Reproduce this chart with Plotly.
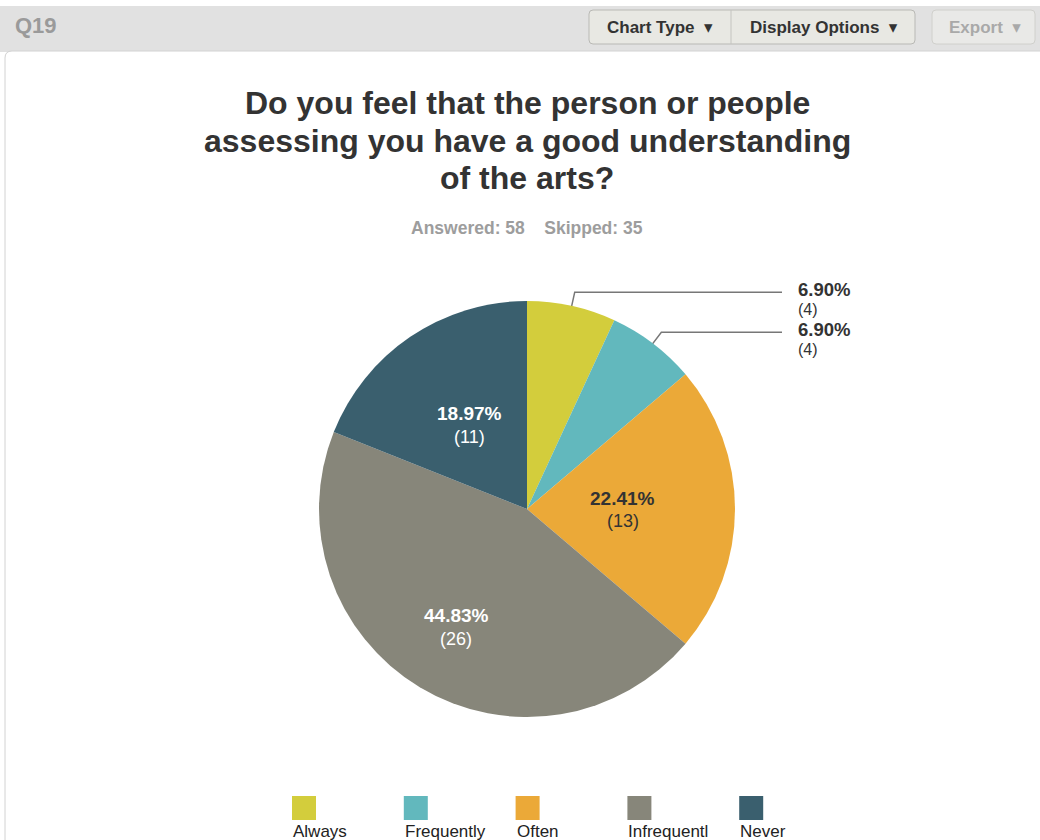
import math
import plotly.graph_objects as go

# ---- survey data -------------------------------------------------------
categories = ["Always", "Frequently", "Often", "Infrequently", "Never"]
counts = [4, 4, 13, 26, 11]
colors = ["#d3cd3c", "#62b8bd", "#eba938", "#87867a", "#3a5f6e"]

question_id = "Q19"
title_lines = ["Do you feel that the person or people",
               "assessing you have a good understanding",
               "of the arts?"]
answered = 58
skipped = 35

# ---- layout constants (pixel space) -----------------------------------
W, H = 1040, 840
CX, CY, R = 527, 509, 208          # pie centre and radius
FONT = "Liberation Sans, Arial, Helvetica, DejaVu Sans, sans-serif"
inside_label_radius = [None, None, 0.46, 0.66, 0.49]   # fraction of R
inside_label_color = [None, None, "#333333", "#ffffff", "#ffffff"]
outside_slices = [0, 1]
legend_left, legend_step, legend_label_len = 292, 111.8, 11

total = sum(counts)
pcts = [c / total * 100 for c in counts]

fig = go.Figure()

# pie placed in a square domain so the radius lands exactly on R
fig.add_trace(go.Pie(
    labels=categories, values=counts, sort=False, direction="clockwise",
    rotation=0, marker=dict(colors=colors, line=dict(width=0)),
    textinfo="none", hoverinfo="label+percent+value", showlegend=False,
    domain=dict(x=[(CX - R) / W, (CX + R) / W], y=[1 - (CY + R) / H, 1 - (CY - R) / H]),
))

# mid-angle of each slice, measured clockwise from 12 o'clock
mid_angles = []
acc = 0
for c in counts:
    mid_angles.append((acc + c / 2) / total * 2 * math.pi)
    acc += c

def polar(a, r):
    return CX + r * math.sin(a), CY - r * math.cos(a)

annotations = []
shapes = []

def text(x, y, s, size, color, anchor="center", bold=False):
    annotations.append(dict(xref="x", yref="y", x=x, y=y, text=f"<b>{s}</b>" if bold else s,
                            showarrow=False, font=dict(family=FONT, size=size, color=color),
                            xanchor=anchor, yanchor="middle"))

# header band and white card
shapes.append(dict(type="rect", xref="x", yref="y", x0=0, x1=W, y0=6, y1=52,
                   fillcolor="#e1e1e1", line=dict(width=0), layer="below"))
shapes.append(dict(type="path", xref="x", yref="y",
                   path=f"M 5 {H+2} L 5 58 Q 5 51 12 51 L {W+2} 51 L {W+2} {H+2} Z",
                   fillcolor="#ffffff", line=dict(color="#d2d2d2", width=1), layer="below"))

def rounded(x0, y0, x1, y1, r=4):
    return (f"M {x0+r} {y0} L {x1-r} {y0} Q {x1} {y0} {x1} {y0+r} L {x1} {y1-r} "
            f"Q {x1} {y1} {x1-r} {y1} L {x0+r} {y1} Q {x0} {y1} {x0} {y1-r} "
            f"L {x0} {y0+r} Q {x0} {y0} {x0+r} {y0} Z")

# toolbar buttons
shapes.append(dict(type="path", xref="x", yref="y", path=rounded(589, 10, 915, 44),
                   fillcolor="#e8e8e3", line=dict(color="#b9b9b5", width=1), layer="below"))
shapes.append(dict(type="line", xref="x", yref="y", x0=731, x1=731, y0=10, y1=44,
                   line=dict(color="#c4c4c0", width=1), layer="below"))
shapes.append(dict(type="path", xref="x", yref="y", path=rounded(932, 10, 1035, 44),
                   fillcolor="#e9e9e7", line=dict(color="#d0d0cc", width=1), layer="below"))

text(660, 27, "Chart Type  ▾", 17, "#333333", bold=True)
text(824, 27, "Display Options  ▾", 17, "#333333", bold=True)
text(985, 27, "Export  ▾", 17, "#a9a9a9", bold=True)
text(13, 25, question_id, 22, "#9a9a9a", anchor="left", bold=True)

# title and response counts
for k, line in enumerate(title_lines):
    text(CX, 103 + k * 37.5, line, 32, "#333333", bold=True)
text(CX, 228, f"Answered: {answered}&nbsp;&nbsp;&nbsp;&nbsp;Skipped: {skipped}", 17.5, "#9d9d9d", bold=True)

# labels drawn inside the larger slices
for i, frac in enumerate(inside_label_radius):
    if frac is None:
        continue
    x, y = polar(mid_angles[i], frac * R)
    text(x, y - 11, f"{pcts[i]:.2f}%", 19, inside_label_color[i], bold=True)
    text(x, y + 12, f"({counts[i]})", 18, inside_label_color[i])

# labels for the thin slices, connected by elbow leader lines
line_end = 782
for i in outside_slices:
    a = mid_angles[i]
    sx, sy = polar(a, R * 0.92)
    ex, ey = polar(a, R + 14)
    fig.add_trace(go.Scatter(x=[sx, ex, line_end], y=[sy, ey, ey], mode="lines",
                             line=dict(color="#777777", width=1.5), hoverinfo="skip",
                             showlegend=False, xaxis="x", yaxis="y"))
    text(line_end + 14, ey - 3, f"{pcts[i]:.2f}%", 18.5, "#333333", anchor="left", bold=True)
    text(line_end + 14, ey + 17, f"({counts[i]})", 16, "#333333", anchor="left")

# legend: colour swatch with the category name beneath
leg_x = [legend_left + i * legend_step for i in range(len(categories))]
fig.add_trace(go.Scatter(x=[x + 12 for x in leg_x], y=[808] * len(categories), mode="markers",
                         marker=dict(symbol="square", size=24, color=colors, line=dict(width=0)),
                         hoverinfo="skip", showlegend=False, xaxis="x", yaxis="y"))
for x, name in zip(leg_x, categories):
    text(x - 1, 831, name[:legend_label_len], 17, "#222222", anchor="left")

fig.update_layout(
    width=W, height=H, margin=dict(l=0, r=0, t=0, b=0),
    paper_bgcolor="#ffffff", plot_bgcolor="rgba(0,0,0,0)",
    xaxis=dict(range=[0, W], visible=False, domain=[0, 1], fixedrange=True),
    yaxis=dict(range=[H, 0], visible=False, domain=[0, 1], fixedrange=True),
    shapes=shapes, annotations=annotations, showlegend=False,
)

fig.write_html("out.html", config={"displayModeBar": False})
